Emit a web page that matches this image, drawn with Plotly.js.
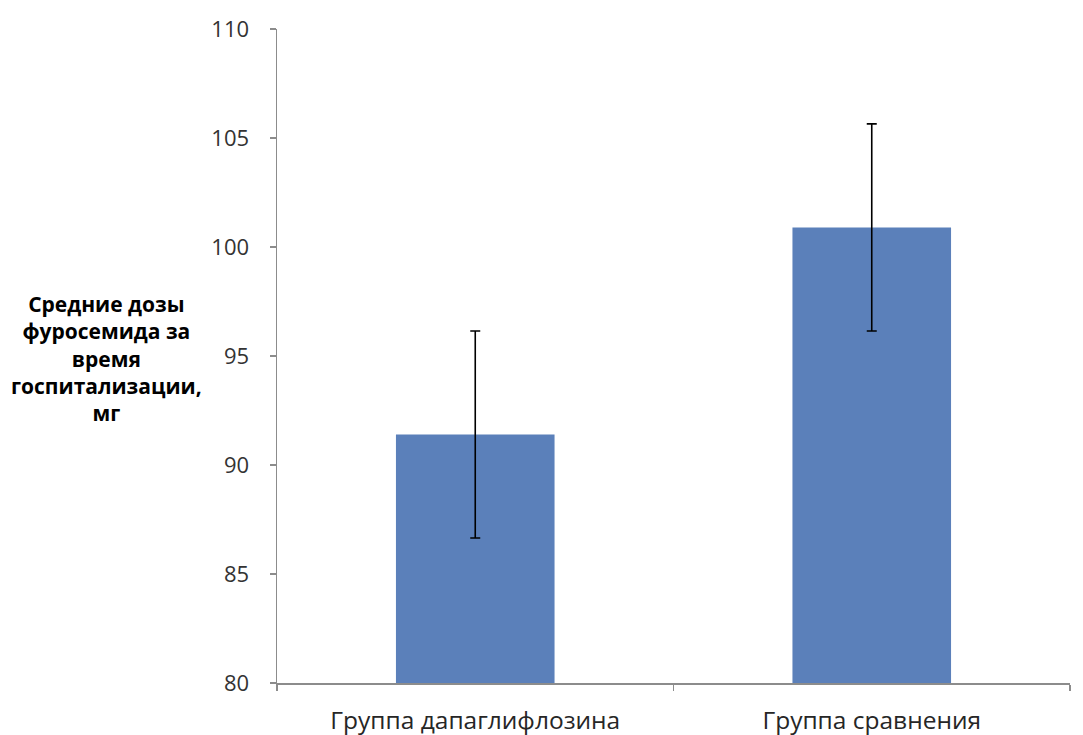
<!DOCTYPE html>
<html>
<head>
<meta charset="utf-8">
<script src="https://cdn.plot.ly/plotly-3.0.1.min.js"></script>
<style>
  html, body { margin: 0; padding: 0; background: #ffffff; }
  #chart { width: 1083px; height: 735px; }
</style>
</head>
<body>
<div id="chart"></div>
<script>
// Mean furosemide dose during hospitalisation, mg (mean ± error)
const groups = ["Группа дапаглифлозина", "Группа сравнения"];
const meanDose = [91.4, 100.9];
const doseError = [4.75, 4.75];
const yTicks = [80, 85, 90, 95, 100, 105, 110];

const axisColor = "#8c8c8c";
const textFont = "Open Sans, Noto Sans, sans-serif";

const trace = {
  type: "bar",
  x: groups,
  y: meanDose,
  marker: { color: "#5B80BA", line: { width: 0 } },
  error_y: {
    type: "data",
    array: doseError,
    visible: true,
    color: "#000000",
    thickness: 1.6,
    width: 5
  },
  hoverinfo: "x+y"
};

const layout = {
  width: 1083,
  height: 735,
  margin: { l: 277, r: 13, t: 29, b: 52 },
  paper_bgcolor: "#ffffff",
  plot_bgcolor: "#ffffff",
  showlegend: false,
  bargap: 0.6,
  xaxis: {
    type: "category",
    showline: true,
    linecolor: axisColor,
    linewidth: 1.5,
    showgrid: false,
    zeroline: false,
    ticks: "outside",
    tickson: "boundaries",
    ticklen: 6,
    tickcolor: axisColor,
    tickwidth: 1.2,
    tickfont: { family: textFont, size: 24.5, color: "#262626" },
    ticklabelstandoff: 15
  },
  yaxis: {
    range: [80, 110],
    tickvals: yTicks,
    showline: true,
    linecolor: axisColor,
    linewidth: 1.5,
    showgrid: false,
    zeroline: false,
    ticks: "outside",
    ticklen: 6,
    tickcolor: axisColor,
    tickwidth: 1.2,
    tickfont: { family: textFont, size: 22, color: "#333333" },
    ticklabelstandoff: 16
  },
  annotations: [{
    xref: "paper",
    yref: "paper",
    x: -0.2144,
    y: 0.496,
    xanchor: "center",
    yanchor: "middle",
    align: "center",
    showarrow: false,
    text: "<b>Средние дозы<br>фуросемида за<br>время<br>госпитализации,<br>мг</b>",
    font: { family: textFont, size: 21, color: "#000000" }
  }]
};

Plotly.newPlot("chart", [trace], layout, { displayModeBar: false, staticPlot: true });
</script>
</body>
</html>
